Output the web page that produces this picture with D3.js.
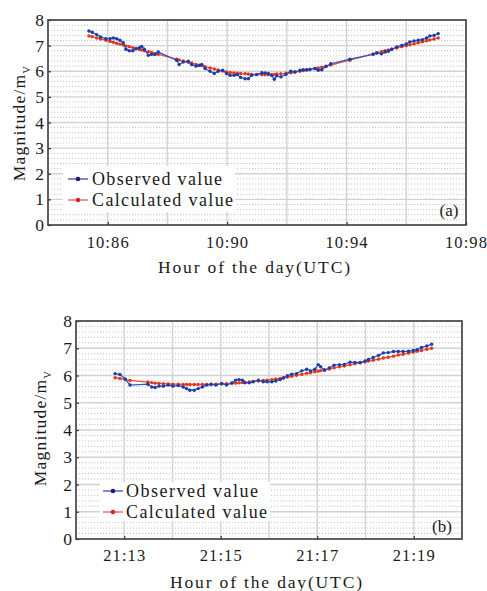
<!DOCTYPE html>
<html>
<head>
<meta charset="utf-8">
<script src="https://cdn.jsdelivr.net/npm/d3@7"></script>
<style>
  html, body { margin: 0; padding: 0; background: #fff; }
  svg { display: block; font-family: "Liberation Serif", "DejaVu Serif", serif; }
</style>
</head>
<body>
<svg id="chart" width="487" height="591"></svg>
<script>
// ---------- Panel (a) data ----------
const aTime = [85.37,85.48,85.63,85.76,85.94,86.08,86.19,86.30,86.41,86.52,86.61,86.72,86.84,86.95,87.06,87.14,87.23,87.36,87.47,87.58,87.69,88.31,88.39,88.53,88.70,88.81,88.96,89.07,89.15,89.26,89.43,89.57,89.70,89.85,89.98,90.10,90.23,90.34,90.45,90.60,90.71,90.82,90.99,91.16,91.27,91.38,91.49,91.58,91.66,91.80,91.97,92.13,92.27,92.44,92.55,92.66,92.77,92.94,93.05,93.17,93.31,93.47,94.11,94.89,95.01,95.17,95.29,95.40,95.51,95.68,95.85,96.00,96.12,96.26,96.40,96.54,96.68,96.79,96.93,97.07];
const aObserved = [7.57,7.52,7.43,7.34,7.27,7.27,7.30,7.27,7.21,7.11,6.86,6.80,6.80,6.88,6.92,6.97,6.86,6.62,6.66,6.65,6.75,6.43,6.26,6.36,6.39,6.26,6.20,6.23,6.27,6.11,6.00,5.91,6.00,6.04,5.91,5.84,5.84,5.87,5.76,5.71,5.71,5.84,5.87,5.94,5.93,5.91,5.84,5.69,5.82,5.78,5.88,6.00,5.97,6.04,6.06,6.06,6.07,6.11,6.04,6.06,6.19,6.29,6.47,6.66,6.71,6.68,6.75,6.78,6.86,6.95,7.01,7.07,7.14,7.18,7.21,7.23,7.30,7.38,7.40,7.47];
const aCalculated = [7.38,7.35,7.30,7.26,7.21,7.16,7.13,7.09,7.06,7.02,6.99,6.96,6.92,6.89,6.85,6.83,6.80,6.76,6.73,6.69,6.66,6.47,6.44,6.40,6.35,6.32,6.27,6.24,6.22,6.18,6.13,6.09,6.05,6.01,5.97,5.95,5.93,5.92,5.91,5.90,5.89,5.88,5.88,5.87,5.87,5.87,5.87,5.88,5.89,5.90,5.92,5.94,5.97,6.00,6.03,6.05,6.07,6.11,6.13,6.16,6.20,6.24,6.43,6.68,6.72,6.77,6.80,6.83,6.86,6.91,6.96,7.00,7.03,7.07,7.11,7.15,7.19,7.22,7.26,7.30];
const aXTicks = [86, 90, 94, 98];
const aXGrid = [86, 88, 90, 92, 94, 96];
const aHourLabel = "10";

// ---------- Panel (b) data ----------
const bTime = [12.81,12.91,13.02,13.12,13.49,13.57,13.64,13.72,13.81,13.91,14.01,14.12,14.22,14.29,14.36,14.45,14.53,14.62,14.71,14.80,14.90,15.02,15.12,15.23,15.31,15.38,15.45,15.50,15.59,15.67,15.78,15.88,15.96,16.06,16.14,16.23,16.30,16.38,16.47,16.57,16.68,16.78,16.86,16.95,17.02,17.07,17.15,17.25,17.35,17.46,17.56,17.68,17.78,17.89,17.99,18.06,18.16,18.27,18.37,18.47,18.58,18.68,18.78,18.89,18.99,19.07,19.16,19.27,19.37];
const bObserved = [6.07,6.04,5.87,5.65,5.68,5.58,5.56,5.61,5.61,5.65,5.61,5.63,5.58,5.52,5.46,5.46,5.52,5.58,5.65,5.68,5.65,5.71,5.65,5.73,5.83,5.85,5.83,5.73,5.73,5.77,5.83,5.77,5.77,5.77,5.80,5.85,5.91,5.99,6.05,6.07,6.17,6.23,6.17,6.23,6.40,6.32,6.19,6.28,6.38,6.40,6.41,6.49,6.48,6.48,6.53,6.59,6.66,6.74,6.83,6.84,6.88,6.88,6.88,6.89,6.92,6.95,7.03,7.08,7.15];
const bCalculated = [5.92,5.89,5.85,5.82,5.76,5.74,5.72,5.71,5.70,5.69,5.68,5.68,5.67,5.67,5.67,5.67,5.67,5.67,5.67,5.67,5.68,5.69,5.70,5.71,5.72,5.73,5.74,5.75,5.76,5.78,5.80,5.82,5.83,5.85,5.87,5.89,5.92,5.94,5.97,6.01,6.04,6.08,6.10,6.14,6.16,6.18,6.21,6.24,6.28,6.32,6.35,6.39,6.43,6.47,6.50,6.53,6.56,6.60,6.64,6.67,6.71,6.75,6.78,6.82,6.86,6.89,6.92,6.96,7.00];
const bXTicks = [13, 15, 17, 19];
const bXGrid = [13, 14, 15, 16, 17, 18, 19];
const bHourLabel = "21";

// ---------- shared ----------
const yTicks = [0, 1, 2, 3, 4, 5, 6, 7, 8];
const yMajorGrid = [1, 2, 3, 4, 5, 6, 7];
const yMinorGrid = d3.range(0.2, 8, 0.2).filter(v => Math.abs(v - Math.round(v)) > 0.05);
const seriesNames = ["Observed value", "Calculated value"];
const xTitle = "Hour of the day(UTC)";

const svg = d3.select("#chart");

function drawPanel(cfg) {
  const g = svg.append("g");
  const x = d3.scaleLinear().domain(cfg.xDomain).range([cfg.left, cfg.right]);
  const y = d3.scaleLinear().domain([0, 8]).range([cfg.bottom, cfg.top]);

  // minor dotted horizontal grid
  g.append("g").selectAll("line").data(yMinorGrid).join("line")
    .attr("x1", cfg.left).attr("x2", cfg.right)
    .attr("y1", d => y(d)).attr("y2", d => y(d))
    .attr("stroke", "#c4c4c4").attr("stroke-width", 1)
    .attr("stroke-dasharray", "1.2,1.8");
  // major horizontal grid
  g.append("g").selectAll("line").data(yMajorGrid).join("line")
    .attr("x1", cfg.left).attr("x2", cfg.right)
    .attr("y1", d => y(d)).attr("y2", d => y(d))
    .attr("stroke", "#d2d2d2").attr("stroke-width", 1.4);
  // vertical grid
  g.append("g").selectAll("line").data(cfg.xGrid).join("line")
    .attr("x1", d => x(d)).attr("x2", d => x(d))
    .attr("y1", cfg.top).attr("y2", cfg.bottom)
    .attr("stroke", "#d2d2d2").attr("stroke-width", 1.4);

  // legend background
  const L = cfg.legend;
  g.append("rect").attr("x", L.bx).attr("y", L.by).attr("width", L.bw).attr("height", L.bh)
    .attr("fill", "#fff");

  // series
  const series = [
    { vals: cfg.calc, line: "#f0552a", dot: "#e2381a" },
    { vals: cfg.obs, line: "#2f56c8", dot: "#1d3aa8" }
  ];
  series.forEach(s => {
    const pts = cfg.time.map((t, i) => [t, s.vals[i]]);
    g.append("path").datum(pts)
      .attr("fill", "none").attr("stroke", s.line).attr("stroke-width", 1.3)
      .attr("d", d3.line().x(d => x(d[0])).y(d => y(d[1])));
    g.append("g").selectAll("circle").data(pts).join("circle")
      .attr("cx", d => x(d[0])).attr("cy", d => y(d[1])).attr("r", 1.7)
      .attr("fill", s.dot);
  });

  // axes
  const xAxis = d3.axisBottom(x).tickValues(cfg.xTicks)
    .tickFormat(d => cfg.hour + ":" + d).tickSize(-3).tickPadding(cfg.xPad);
  const gx = g.append("g").attr("transform", `translate(0,${cfg.bottom})`).call(xAxis);
  const yAxis = d3.axisLeft(y).tickValues(yTicks).tickFormat(d3.format("d"))
    .tickSize(-3).tickPadding(cfg.yPad);
  const gy = g.append("g").attr("transform", `translate(${cfg.left},0)`).call(yAxis);
  [gx, gy].forEach(a => {
    a.select(".domain").remove();
    a.selectAll(".tick line").attr("stroke", "#333").attr("stroke-width", 1.2);
    a.selectAll(".tick text").attr("fill", "#1a1a1a")
      .attr("font-family", "Liberation Serif, serif");
  });
  gx.selectAll(".tick text").attr("font-size", 16.5).attr("letter-spacing", "1.1px");
  gy.selectAll(".tick text").attr("font-size", 17.5);

  // frame
  g.append("rect").attr("x", cfg.left).attr("y", cfg.top)
    .attr("width", cfg.right - cfg.left).attr("height", cfg.bottom - cfg.top)
    .attr("fill", "none").attr("stroke", "#3a3a3a").attr("stroke-width", 1.6);

  // legend
  const legColors = [{ line: "#4a4aa8", dot: "#1c1c78" }, { line: "#ee5a5a", dot: "#e02222" }];
  seriesNames.forEach((name, i) => {
    const yy = L.y0 + i * L.dy;
    g.append("line").attr("x1", L.x0).attr("x2", L.x0 + 20).attr("y1", yy).attr("y2", yy)
      .attr("stroke", legColors[i].line).attr("stroke-width", 1.3);
    g.append("circle").attr("cx", L.x0 + 10).attr("cy", yy).attr("r", 2.3).attr("fill", legColors[i].dot);
    g.append("text").attr("x", L.tx).attr("y", yy).attr("dy", "0.35em")
      .attr("font-size", 18).attr("fill", "#1a1a1a")
      .attr("textLength", L.tw[i]).attr("lengthAdjust", "spacing")
      .text(name);
  });

  // panel tag
  g.append("text").attr("x", cfg.tagX).attr("y", cfg.tagY).attr("dy", "0.35em")
    .attr("text-anchor", "middle").attr("font-size", 17).attr("fill", "#1a1a1a")
    .text(cfg.tag);

  // x title
  g.append("text").attr("x", cfg.xTitleX).attr("y", cfg.xTitleY).attr("dy", "0.35em")
    .attr("font-size", 17.5).attr("fill", "#1a1a1a")
    .attr("textLength", 192).attr("lengthAdjust", "spacing")
    .text(xTitle);

  // y title
  const yt = g.append("text")
    .attr("transform", `translate(${cfg.yTitleX},${cfg.yTitleY}) rotate(-90)`)
    .attr("text-anchor", "middle").attr("dy", "0.35em")
    .attr("font-size", 17.5).attr("fill", "#1a1a1a").attr("letter-spacing", "1.2px");
  yt.append("tspan").text("Magnitude/m");
  yt.append("tspan").attr("font-size", 10.5).attr("dy", "0.45em").text("V");
}

drawPanel({
  xDomain: [84, 98], left: 48, right: 466, top: 20, bottom: 225,
  time: aTime, obs: aObserved, calc: aCalculated,
  xTicks: aXTicks, xGrid: aXGrid, hour: aHourLabel, xPad: 11, yPad: 4,
  legend: { bx: 63, by: 166, bw: 172, bh: 46, x0: 68, tx: 92, y0: 179, dy: 21, tw: [130, 141] },
  tag: "(a)", tagX: 449, tagY: 210,
  xTitleX: 158, xTitleY: 267, yTitleX: 19, yTitleY: 123
});

drawPanel({
  xDomain: [12, 20], left: 76, right: 462, top: 321, bottom: 539,
  time: bTime, obs: bObserved, calc: bCalculated,
  xTicks: bXTicks, xGrid: bXGrid, hour: bHourLabel, xPad: 10, yPad: 4,
  legend: { bx: 100, by: 482, bw: 170, bh: 39, x0: 103, tx: 126, y0: 491, dy: 21, tw: [132, 141] },
  tag: "(b)", tagX: 442, tagY: 526,
  xTitleX: 170, xTitleY: 582, yTitleX: 40, yTitleY: 428
});
</script>
</body>
</html>
